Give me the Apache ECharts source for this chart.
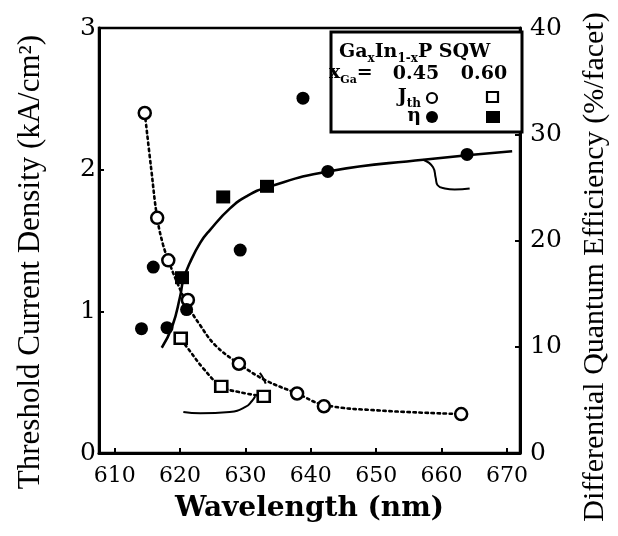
<!DOCTYPE html>
<html>
<head>
<meta charset="utf-8">
<script src="https://cdn.jsdelivr.net/npm/echarts@6/dist/echarts.min.js"></script>
<style>
  html, body { margin: 0; padding: 0; background: #fff; }
  #chart { width: 618px; height: 536px; }
</style>
</head>
<body>
<div id="chart"></div>
<script>
// Axis tick values
const wavelengthTicks = [610, 620, 630, 640, 650, 660, 670];
const jthTicks = [0, 1, 2, 3];
const etaTicks = [0, 10, 20, 30, 40];

// Threshold current density (kA/cm2), x_Ga = 0.45 (open circles)
const jth045Wl = [614.6, 616.5, 618.2, 621.2, 629.0, 637.9, 642.0, 663.0];
const jth045 = [2.40, 1.66, 1.36, 1.08, 0.63, 0.42, 0.33, 0.275];

// Threshold current density (kA/cm2), x_Ga = 0.60 (open squares)
const jth060Wl = [620.1, 626.3, 632.8];
const jth060 = [0.81, 0.47, 0.40];

// Differential quantum efficiency (%/facet), x_Ga = 0.45 (filled circles)
const eta045Wl = [614.1, 615.9, 618.0, 621.0, 629.2, 638.8, 642.6, 663.9];
const eta045 = [11.7, 17.5, 11.8, 13.5, 19.1, 33.4, 26.5, 28.1];

// Differential quantum efficiency (%/facet), x_Ga = 0.60 (filled squares)
const eta060Wl = [620.3, 626.6, 633.3];
const eta060 = [16.5, 24.1, 25.1];

// Guide curves
const jthCurve045Wl = [614.6, 615.6, 616.5, 617.4, 618.3, 619.4, 621.2, 623.1, 625.4, 629.0, 633.0, 637.9, 642.0, 650.5, 663.0];
const jthCurve045 = [2.40, 2.00, 1.66, 1.47, 1.35, 1.22, 1.04, 0.90, 0.76, 0.63, 0.515, 0.42, 0.34, 0.30, 0.275];
const jthCurve060Wl = [620.2, 621.5, 623.5, 626.3, 629.0, 632.8];
const jthCurve060 = [0.80, 0.72, 0.60, 0.47, 0.43, 0.40];
const etaCurveWl = [617.2, 618.8, 620.0, 620.5, 621.5, 623.1, 624.6, 627.6, 630.3, 633.3, 642.6, 657.2, 670.8];
const etaCurve = [9.9, 11.9, 14.7, 16.3, 17.9, 19.8, 21.0, 23.0, 24.2, 25.0, 26.5, 27.6, 28.4];

// Hooks tying each curve family to its axis
const etaHookWl = [657.2, 658.7, 659.1, 659.4, 660.5, 662.0, 664.3];
const etaHook = [27.6, 26.9, 25.9, 25.2, 24.9, 24.8, 24.9];
const jthHookWl = [620.5, 623.1, 627.6, 630.0, 631.0, 631.5];
const jthHook = [0.29, 0.28, 0.29, 0.325, 0.367, 0.40];
const jthBracketWl = [632.2, 632.7, 633.1];
const jthBracket = [0.565, 0.53, 0.49];

const zip = (xs, ys) => xs.map((x, i) => [x, ys[i]]);

const serif = 'DejaVu Serif';
const black = '#000';

const chart = echarts.init(document.getElementById('chart'));

const dotted = { color: black, width: 2.6, type: [2.4, 3.6], cap: 'round' };

const option = {
  backgroundColor: '#fff',
  animation: false,
  grid: {
    left: 99, right: 98, top: 28, bottom: 83,
    show: true, borderColor: black, borderWidth: 2.5, backgroundColor: 'transparent'
  },
  xAxis: {
    type: 'value',
    min: 607.6, max: 672,
    axisLine: { lineStyle: { color: black, width: 3 } },
    axisTick: { inside: true, length: 5, customValues: wavelengthTicks, lineStyle: { color: black, width: 2 } },
    axisLabel: { customValues: wavelengthTicks, color: black, fontFamily: serif, fontSize: 22, margin: 12 },
    splitLine: { show: false },
    name: 'Wavelength (nm)',
    nameLocation: 'middle',
    nameGap: 42,
    nameTextStyle: { color: black, fontFamily: serif, fontWeight: 'bold', fontSize: 28 }
  },
  yAxis: [
    {
      type: 'value', position: 'left',
      min: 0, max: 3, interval: 1,
      axisLine: { show: true, lineStyle: { color: black, width: 3 } },
      axisTick: { show: true, inside: true, length: 5, lineStyle: { color: black, width: 2 } },
      axisLabel: { color: black, fontFamily: serif, fontSize: 25, margin: 3 },
      splitLine: { show: false }
    },
    {
      type: 'value', position: 'right',
      min: 0, max: 40, interval: 10,
      axisLine: { show: true, lineStyle: { color: black, width: 3 } },
      axisTick: { show: true, inside: true, length: 5, lineStyle: { color: black, width: 2 } },
      axisLabel: { color: black, fontFamily: serif, fontSize: 25, margin: 10, padding: [0, 0, 16, 0] },
      splitLine: { show: false }
    }
  ],
  series: [
    {
      name: 'Jth fit 0.45', type: 'line', yAxisIndex: 0,
      data: zip(jthCurve045Wl, jthCurve045), smooth: 0.4, showSymbol: false,
      lineStyle: dotted, z: 2
    },
    {
      name: 'Jth fit 0.60', type: 'line', yAxisIndex: 0,
      data: zip(jthCurve060Wl, jthCurve060), smooth: 0.4, showSymbol: false,
      lineStyle: dotted, z: 2
    },
    {
      name: 'eta fit', type: 'line', yAxisIndex: 1,
      data: zip(etaCurveWl, etaCurve), smooth: 0.5, showSymbol: false,
      lineStyle: { color: black, width: 2.6 }, z: 2
    },
    {
      name: 'eta hook', type: 'line', yAxisIndex: 1,
      data: zip(etaHookWl, etaHook), smooth: 0.5, showSymbol: false,
      lineStyle: { color: black, width: 2 }, z: 2
    },
    {
      name: 'Jth hook', type: 'line', yAxisIndex: 0,
      data: zip(jthHookWl, jthHook), smooth: 0.5, showSymbol: false,
      lineStyle: { color: black, width: 2 }, z: 2
    },
    {
      name: 'Jth bracket', type: 'line', yAxisIndex: 0,
      data: zip(jthBracketWl, jthBracket), smooth: 0.5, showSymbol: false,
      lineStyle: { color: black, width: 2 }, z: 2
    },
    {
      name: 'Jth 0.45', type: 'scatter', yAxisIndex: 0,
      data: zip(jth045Wl, jth045), symbol: 'circle', symbolSize: 12,
      itemStyle: { color: '#fff', borderColor: black, borderWidth: 2.5, opacity: 1 }, z: 4
    },
    {
      name: 'Jth 0.60', type: 'scatter', yAxisIndex: 0,
      data: zip(jth060Wl, jth060), symbol: 'rect', symbolSize: [12, 11],
      itemStyle: { color: '#fff', borderColor: black, borderWidth: 2.5, opacity: 1 }, z: 4
    },
    {
      name: 'eta 0.45', type: 'scatter', yAxisIndex: 1,
      data: zip(eta045Wl, eta045), symbol: 'circle', symbolSize: 13,
      itemStyle: { color: black, opacity: 1 }, z: 5
    },
    {
      name: 'eta 0.60', type: 'scatter', yAxisIndex: 1,
      data: zip(eta060Wl, eta060), symbol: 'rect', symbolSize: [14, 13],
      itemStyle: { color: black, opacity: 1 }, z: 5
    }
  ],
  graphic: [
    {
      type: 'text', x: 31, y: 262, rotation: Math.PI / 2,
      style: {
        text: 'Threshold Current Density (kA/cm²)',
        font: '31px "Liberation Serif"', fill: black,
        align: 'center', verticalAlign: 'middle', textAlign: 'center', textVerticalAlign: 'middle'
      }
    },
    {
      type: 'text', x: 595, y: 267, rotation: Math.PI / 2,
      style: {
        text: 'Differential Quantum Efficiency (%/facet)',
        font: '30px "Liberation Serif"', fill: black,
        align: 'center', verticalAlign: 'middle', textAlign: 'center', textVerticalAlign: 'middle'
      }
    },
    // legend panel
    {
      type: 'rect', z: 100,
      shape: { x: 331, y: 32, width: 191, height: 100 },
      style: { fill: '#fff', stroke: black, lineWidth: 3 }
    },
    {
      type: 'text', z: 101, x: 339, y: 52,
      style: {
        text: '{m|Ga}{s|x}{m|In}{s|1-x}{m|P SQW}',
        verticalAlign: 'middle', textVerticalAlign: 'middle', fill: black,
        rich: {
          m: { fontFamily: serif, fontWeight: 'bold', fontSize: 19, lineHeight: 26, fill: black },
          s: { fontFamily: serif, fontWeight: 'bold', fontSize: 12, lineHeight: 26, verticalAlign: 'bottom', fill: black }
        }
      }
    },
    {
      type: 'text', z: 101, x: 329, y: 73,
      style: {
        text: '{m|x}{s|Ga}{m|=}',
        verticalAlign: 'middle', textVerticalAlign: 'middle', fill: black,
        rich: {
          m: { fontFamily: serif, fontWeight: 'bold', fontSize: 19, lineHeight: 26, fill: black },
          s: { fontFamily: serif, fontWeight: 'bold', fontSize: 11, lineHeight: 26, verticalAlign: 'bottom', fill: black }
        }
      }
    },
    {
      type: 'text', z: 101, x: 416, y: 74,
      style: { text: '0.45', font: 'bold 19px "DejaVu Serif"', fill: black,
        align: 'center', verticalAlign: 'middle', textAlign: 'center', textVerticalAlign: 'middle' }
    },
    {
      type: 'text', z: 101, x: 484, y: 74,
      style: { text: '0.60', font: 'bold 19px "DejaVu Serif"', fill: black,
        align: 'center', verticalAlign: 'middle', textAlign: 'center', textVerticalAlign: 'middle' }
    },
    {
      type: 'text', z: 101, x: 421, y: 97,
      style: {
        text: '{m|J}{s|th}',
        align: 'right', textAlign: 'right', verticalAlign: 'middle', textVerticalAlign: 'middle', fill: black,
        rich: {
          m: { fontFamily: serif, fontWeight: 'bold', fontSize: 19, lineHeight: 26, fill: black },
          s: { fontFamily: serif, fontWeight: 'bold', fontSize: 12, lineHeight: 26, verticalAlign: 'bottom', fill: black }
        }
      }
    },
    {
      type: 'text', z: 101, x: 421, y: 116,
      style: { text: 'η', font: 'bold 19px "DejaVu Serif"', fill: black,
        align: 'right', verticalAlign: 'middle', textAlign: 'right', textVerticalAlign: 'middle' }
    },
    {
      type: 'circle', z: 101, shape: { cx: 432, cy: 98, r: 5 },
      style: { fill: '#fff', stroke: black, lineWidth: 2.2 }
    },
    {
      type: 'rect', z: 101, shape: { x: 487, y: 92, width: 11, height: 10 },
      style: { fill: '#fff', stroke: black, lineWidth: 2.2 }
    },
    {
      type: 'circle', z: 101, shape: { cx: 432, cy: 117, r: 6 },
      style: { fill: black }
    },
    {
      type: 'rect', z: 101, shape: { x: 486, y: 111, width: 14, height: 12 },
      style: { fill: black }
    }
  ]
};

chart.setOption(option);
</script>
</body>
</html>
